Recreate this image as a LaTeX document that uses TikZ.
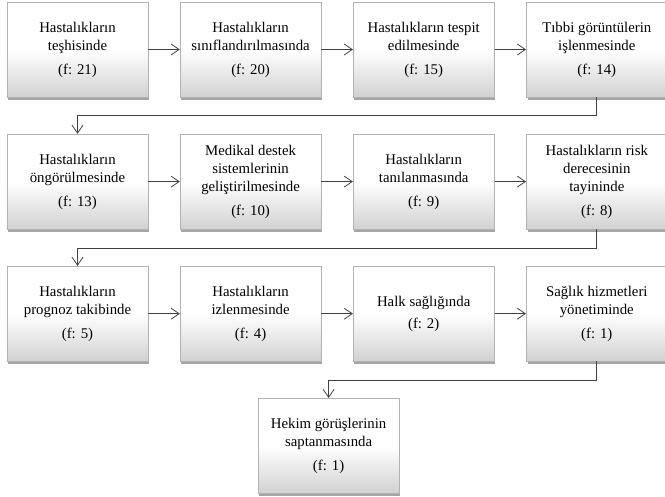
\documentclass[tikz,border=0pt]{standalone}
\usepackage{fontspec}
\setmainfont{Liberation Serif}
\usepackage{tikz}
\usetikzlibrary{arrows.meta, positioning, shadows}

\begin{document}
\begin{tikzpicture}[
  x=1pt, y=1pt,
  node distance=36.5pt and 31.5pt,
  box/.style={draw=black!30, line width=0.6pt, align=center, minimum width=141pt, minimum height=95pt, inner sep=2pt,
    top color=white, bottom color=black!18, middle color=white,
    drop shadow={shadow xshift=1.2pt, shadow yshift=-2.8pt, fill=black!70},
    font=\fontsize{14.8}{18}\selectfont},
  arrow/.style={-{Straight Barb[length=8pt, width=11pt]}, line width=0.8pt, draw=black!75}
]
  \useasboundingbox (-77.5,-447.5) rectangle (587.5,49.5);

  % first row
  \node[box] (p1) at (0,0) {Hastalıkların\\teşhisinde\\[6pt](f: 21)};
  \node[box, right=of p1] (p2) {Hastalıkların\\sınıflandırılmasında\\[6pt](f: 20)};
  \node[box, right=of p2] (p3) {Hastalıkların tespit\\edilmesinde\\[6pt](f: 15)};
  \node[box, right=of p3] (p4) {Tıbbi görüntülerin\\işlenmesinde\\[6pt](f: 14)};

  % second row
  \node[box, below=of p1] (p5) {Hastalıkların\\öngörülmesinde\\[6pt](f: 13)};
  \node[box, right=of p5] (p6) {Medikal destek\\sistemlerinin\\geliştirilmesinde\\[6pt](f: 10)};
  \node[box, right=of p6] (p7) {Hastalıkların\\tanılanmasında\\[6pt](f: 9)};
  \node[box, right=of p7] (p8) {Hastalıkların risk\\derecesinin\\tayininde\\[6pt](f: 8)};

  % third row
  \node[box, below=of p5] (p9) {Hastalıkların\\prognoz takibinde\\[6pt](f: 5)};
  \node[box, right=of p9] (p10) {Hastalıkların\\izlenmesinde\\[6pt](f: 4)};
  \node[box, right=of p10] (p11) {Halk sağlığında\\[4pt](f: 2)};
  \node[box, right=of p11] (p12) {Sağlık hizmetleri\\yönetiminde\\[6pt](f: 1)};

  % last one
  \node[box, below=of p10, xshift=78pt] (p13) {Hekim görüşlerinin\\saptanmasında\\[6pt](f: 1)};

  \draw[arrow] (p1) -- (p2);
  \draw[arrow] (p2) -- (p3);
  \draw[arrow] (p3) -- (p4);
  \draw[arrow] (p4.south) -- ++(0,-18.5) -| (p5.north);
  \draw[arrow] (p5) -- (p6);
  \draw[arrow] (p6) -- (p7);
  \draw[arrow] (p7) -- (p8);
  \draw[arrow] (p8.south) -- ++(0,-19) -| (p9.north);
  \draw[arrow] (p9) -- (p10);
  \draw[arrow] (p10) -- (p11);
  \draw[arrow] (p11) -- (p12);
  \draw[arrow] (p12.south) -- ++(0,-19) -| (p13.north);
\end{tikzpicture}
\end{document}
